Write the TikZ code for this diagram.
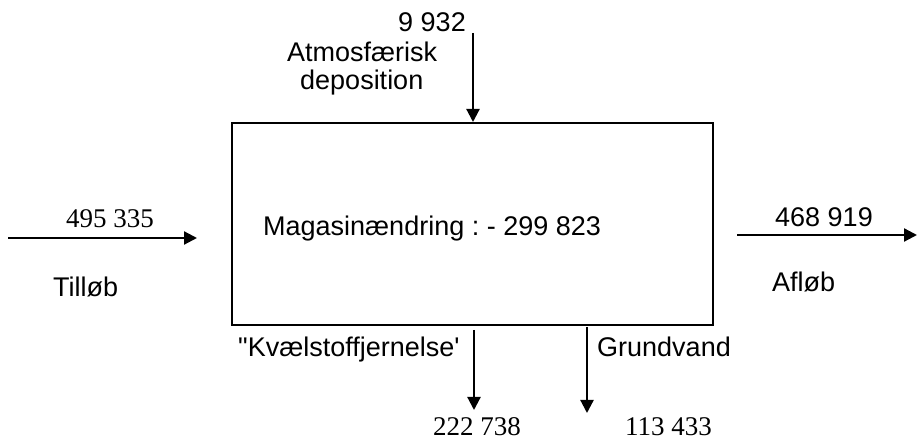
\documentclass[tikz,border=0pt]{standalone}
\usepackage{fontspec}
\setmainfont{Liberation Sans}
\newfontfamily\serifnum{Liberation Serif}
\usetikzlibrary{arrows.meta}
\frenchspacing
\begin{document}
\begin{tikzpicture}[x=1pt,y=1pt,
  lbl/.style={inner sep=0pt,font=\fontsize{27}{31}\selectfont},
  numlbl/.style={inner sep=0pt,font=\fontsize{27}{31}\selectfont\serifnum},
  flow/.style={line width=2.2pt,-{Triangle[length=13pt,width=13pt]}},
  boxstyle/.style={draw,line width=2pt,inner sep=0pt}]
\useasboundingbox (0,0) rectangle (917,441);
% box
\node[boxstyle,minimum width=481pt,minimum height=202pt] (box) at (472.5,217) {};
\node[lbl,anchor=base west] (mag) at (263,205) {Magasinændring : - 299 823};
% top inflow
\coordinate (topstart) at (473,408);
\draw[flow] (topstart) -- (topstart |- box.north);
\node[lbl,anchor=base east] (dep) at (466,409) {9 932};
\node[lbl,anchor=base west] (atm1) at (287,379) {Atmosfærisk};
\node[lbl,anchor=base west] (atm2) at (300,351) {deposition};
% left inflow
\coordinate (inA) at (8,203);
\coordinate (inB) at (197,203);
\draw[flow] (inA) -- (inB);
\node[numlbl,anchor=base west] (tilv) at (66,213) {495 335};
\node[lbl,anchor=base west] (til) at (53,144) {Tilløb};
% right outflow
\coordinate (outA) at (737,206);
\coordinate (outB) at (917,206);
\draw[flow] (outA) -- (outB);
\node[lbl,anchor=base west] (afv) at (775,214) {468 919};
\node[lbl,anchor=base west] (af) at (772,149) {Afløb};
% bottom outflows
\coordinate (k1) at (474,111);
\coordinate (k2) at (474,31);
\draw[flow] (k1) -- (k2);
\coordinate (g1) at (587,114);
\coordinate (g2) at (587,28);
\draw[flow] (g1) -- (g2);
\node[lbl,anchor=base west] (kv) at (238,84) {\textquotedbl Kvælstoffjernelse\textquotesingle};
\node[lbl,anchor=base west] (gr) at (597,84) {Grundvand};
\node[numlbl,anchor=base west] (kvv) at (433,5) {222 738};
\node[numlbl,anchor=base west] (grv) at (625,5) {113 433};
\end{tikzpicture}
\end{document}
